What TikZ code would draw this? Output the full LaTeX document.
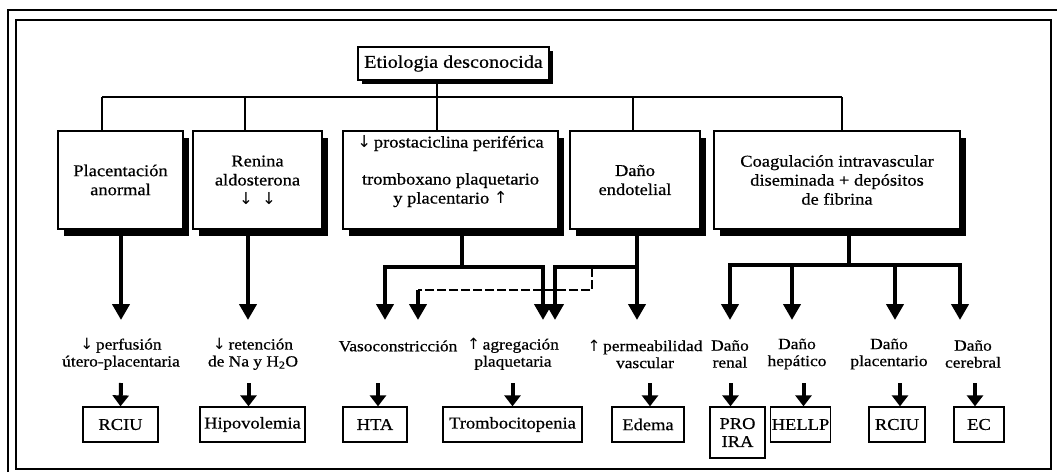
\documentclass[tikz,border=0pt]{standalone}
\usepackage{fontspec}
\setmainfont[FakeStretch=1.12,FakeBold=0.6]{Liberation Serif}
\newfontfamily\arrfont{DejaVu Sans}
\newcommand{\dnar}{{\arrfont ↓}}
\newcommand{\upar}{{\arrfont ↑}}
\usetikzlibrary{arrows.meta,shadows}
\begin{document}
\begin{tikzpicture}[x=1pt,y=-1pt,
  frame/.style={line width=1.5pt},
  box/.style={draw, line width=1.5pt, fill=white, align=center, inner sep=2pt,
    font=\fontsize{16.5}{19}\selectfont,
    drop shadow={shadow xshift=6pt, shadow yshift=-7pt, fill=black, opacity=1}},
  topbox/.style={draw, line width=1.5pt, fill=white, align=center, inner sep=2pt,
    font=\fontsize{18}{20}\selectfont, minimum width=191pt, minimum height=33pt,
    drop shadow={shadow xshift=4pt, shadow yshift=-4pt, fill=black, opacity=1}},
  lab/.style={align=center, inner sep=1pt, font=\fontsize{15.5}{17}\selectfont},
  res/.style={draw, line width=1.3pt, fill=white, align=center, inner sep=1pt,
    minimum height=35pt, font=\fontsize{16.5}{18}\selectfont},
  thinline/.style={line width=1.3pt},
  big/.style={line width=4pt, line join=miter, -{Triangle[length=16pt,width=17pt]}},
  small/.style={line width=4pt, -{Triangle[length=11pt,width=16pt]}},
  dbus/.style={line width=2.5pt, dash pattern=on 9pt off 3pt}
]
\useasboundingbox (0,0) rectangle (1057,472);
\fill[white] (0,0) rectangle (1057,472);
% frame
\draw[frame] (8,472) -- (8,10) -- (1057,10);
\draw[frame] (16,20) rectangle (1051,469);

% top node
\node[topbox] (top) at (453.5,63.5) {Etiologia desconocida};

% second row boxes
\node[box, minimum width=125pt, minimum height=98pt] (b1) at (120.5,180) {Placentación\\anormal};
\node[box, minimum width=129pt, minimum height=98pt] (b2) at (257.5,180) {Renina\\aldosterona\\\dnar\ \ \dnar};
\node[box, minimum width=215pt, minimum height=98pt] (b3) at (450.5,180) {\dnar\,prostaciclina periférica\\[18pt]tromboxano plaquetario\\y placentario \upar\\[2pt]};
\node[box, minimum width=130pt, minimum height=98pt] (b4) at (635,180) {Daño\\endotelial};
\node[box, minimum width=246pt, minimum height=98pt] (b5) at (837,180) {Coagulación intravascular\\diseminada + depósitos\\de fibrina};

% tree connectors
\coordinate (j1) at (102,97);
\coordinate (j2) at (245,97);
\coordinate (j3) at (437,97);
\coordinate (j4) at (633,97);
\coordinate (j5) at (842,97);
\draw[thinline] ([xshift=-16.5pt]top.south) -- (j3);
\draw[thinline] (j1) -- (j5);
\draw[thinline] (j1) -- (b1.north -| j1);
\draw[thinline] (j2) -- (b2.north -| j2);
\draw[thinline] (j3) -- (b3.north -| j3);
\draw[thinline] (j4) -- (b4.north -| j4);
\draw[thinline] (j5) -- (b5.north -| j5);

% arrow tip coordinates
\coordinate (t1) at (121,320);
\coordinate (t2) at (248,320);
\coordinate (t3a) at (385,320);
\coordinate (t3b) at (543,320);
\coordinate (t4a) at (555,320);
\coordinate (t4b) at (637,320);
\coordinate (td) at (418,320);
\coordinate (t5a) at (730,320);
\coordinate (t5b) at (792,320);
\coordinate (t5c) at (895,320);
\coordinate (t5d) at (960,320);
\coordinate (d0) at (592,268);
\coordinate (d1) at (418,290);

% big arrows
\draw[big] (b1.south -| t1) -- (t1);
\draw[big] (b2.south -| t2) -- (t2);
\draw[big] ([xshift=11.5pt]b3.south) |- ([yshift=53pt]t3a) -- (t3a);
\draw[big] ([xshift=11.5pt]b3.south) |- ([yshift=53pt]t3b) -- (t3b);
\draw[big] ([xshift=2pt]b4.south) |- ([yshift=53pt]t4a) -- (t4a);
\draw[big] ([xshift=2pt]b4.south) -- (t4b);
\draw[dbus] (d0) |- (d1);
\draw[big] (d1) -- (td);
\draw[big] ([xshift=12pt]b5.south) |- ([yshift=55pt]t5a) -- (t5a);
\draw[big] ([xshift=12pt]b5.south) |- ([yshift=55pt]t5b) -- (t5b);
\draw[big] ([xshift=12pt]b5.south) |- ([yshift=55pt]t5c) -- (t5c);
\draw[big] ([xshift=12pt]b5.south) |- ([yshift=55pt]t5d) -- (t5d);

% labels
\node[lab] (l1) at (121,354) {\dnar\,perfusión\\útero-placentaria};
\node[lab] (l2) at (253,354) {\dnar\,retención\\de Na y H\textsubscript{2}O};
\node[lab] (l3) at (398,346) {Vasoconstricción};
\node[lab] (l4) at (513,354) {\upar\,agregación\\plaquetaria};
\node[lab] (l5) at (645,354) {\upar\,permeabilidad\\vascular};
\node[lab] (l6) at (730,354) {Daño\\renal};
\node[lab] (l7) at (797,354) {Daño\\hepático};
\node[lab] (l8) at (889,354) {Daño\\placentario};
\node[lab] (l9) at (973,354) {Daño\\cerebral};

% result boxes
\node[res, minimum width=75pt] (r1) at (120.5,424.5) {RCIU};
\node[res, minimum width=105pt] (r2) at (252.5,424.5) {Hipovolemia};
\node[res, minimum width=64pt] (r3) at (375,424.5) {HTA};
\node[res, minimum width=139pt] (r4) at (512.5,424.5) {Trombocitopenia};
\node[res, minimum width=72pt] (r5) at (648,424.5) {Edema};
\node[res, minimum width=55pt, minimum height=51pt] (r6) at (737.5,432.5) {PRO\\IRA};
\node[res, minimum width=53pt] (r7) at (800.5,424.5) {HELLP};
\node[res, minimum width=56pt] (r8) at (897,424.5) {RCIU};
\node[res, minimum width=50pt] (r9) at (979,424.5) {EC};

% small arrows
\draw[small] (l1.south |- 0,383) -- (r1.north);
\draw[small] ([xshift=-4pt]r2.north |- 0,383) -- ([xshift=-4pt]r2.north);
\draw[small] ([xshift=3pt]r3.north |- 0,383) -- ([xshift=3pt]r3.north);
\draw[small] (r4.north |- 0,383) -- (r4.north);
\draw[small] ([xshift=2pt]r5.north |- 0,383) -- ([xshift=2pt]r5.north);
\draw[small] ([xshift=-7pt]r6.north |- 0,383) -- ([xshift=-7pt]r6.north);
\draw[small] ([xshift=3pt]r7.north |- 0,383) -- ([xshift=3pt]r7.north);
\draw[small] ([xshift=3pt]r8.north |- 0,383) -- ([xshift=3pt]r8.north);
\draw[small] ([xshift=-4pt]r9.north |- 0,383) -- ([xshift=-4pt]r9.north);
\end{tikzpicture}
\end{document}
